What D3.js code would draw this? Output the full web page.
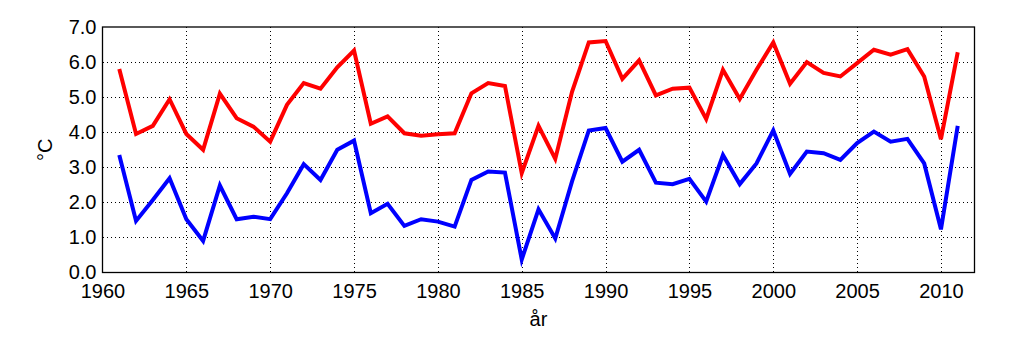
<!DOCTYPE html>
<html>
<head>
<meta charset="utf-8">
<script src="https://cdn.jsdelivr.net/npm/d3@7"></script>
<style>
  html, body { margin: 0; padding: 0; background: #fff; }
  svg { display: block; font-family: "Liberation Sans", Arial, sans-serif; }
</style>
</head>
<body>
<svg id="chart" width="1025" height="341"></svg>
<script>
const years = d3.range(1961, 2012);
const redSeries = [
  5.8, 3.95, 4.18, 4.94, 3.95, 3.5, 5.1, 4.4, 4.16, 3.73,
  4.78, 5.4, 5.24, 5.85, 6.33, 4.24, 4.45, 3.97, 3.9, 3.94,
  3.97, 5.11, 5.4, 5.32, 2.83, 4.18, 3.24, 5.15, 6.56, 6.6,
  5.52, 6.05, 5.05, 5.24, 5.27, 4.38, 5.78, 4.95, 5.78, 6.56,
  5.38, 6.0, 5.69, 5.59, 5.97, 6.35, 6.21, 6.37, 5.59, 3.8,
  6.28
];
const blueSeries = [
  3.35, 1.47, 2.07, 2.69, 1.52, 0.9, 2.48, 1.52, 1.59, 1.52,
  2.26, 3.09, 2.64, 3.5, 3.76, 1.69, 1.96, 1.33, 1.52, 1.45,
  1.31, 2.64, 2.88, 2.85, 0.37, 1.8, 0.97, 2.6, 4.05, 4.12,
  3.16, 3.5, 2.56, 2.52, 2.67, 2.02, 3.35, 2.52, 3.11, 4.05,
  2.81, 3.45, 3.4, 3.21, 3.69, 4.02, 3.73, 3.81, 3.11, 1.23,
  4.18
];
const xTicks = [1960, 1965, 1970, 1975, 1980, 1985, 1990, 1995, 2000, 2005, 2010];
const yTicks = [0, 1, 2, 3, 4, 5, 6, 7];
const xLabel = "år";
const yLabel = "°C";

const svg = d3.select("#chart");
const L = 102.5, R = 974.5, T = 27, B = 272.5;

const x = d3.scaleLinear().domain([1960, 2012]).range([L, R]);
const y = d3.scaleLinear().domain([0, 7]).range([B, T]);

// grid
const grid = svg.append("g").attr("stroke", "#000").attr("stroke-width", 1)
  .attr("stroke-dasharray", "1,3").attr("shape-rendering", "crispEdges");
grid.selectAll("line.v").data(xTicks.filter(d => d > 1960)).join("line")
  .attr("x1", d => Math.round(x(d)) + 0.5).attr("x2", d => Math.round(x(d)) + 0.5)
  .attr("y1", T).attr("y2", B);
grid.selectAll("line.h").data(yTicks.filter(d => d > 0 && d < 7)).join("line")
  .attr("x1", L).attr("x2", R)
  .attr("y1", d => Math.round(y(d)) + 0.5).attr("y2", d => Math.round(y(d)) + 0.5);

// axes (labels only, no tick marks)
const xAxis = d3.axisBottom(x).tickValues(xTicks).tickFormat(d3.format("d")).tickSize(0).tickPadding(11);
const gx = svg.append("g").attr("transform", `translate(0,${B})`).call(xAxis);
gx.select(".domain").remove();
gx.selectAll("text").attr("font-size", 20).attr("font-family", "Liberation Sans, Arial, sans-serif").attr("fill", "#000");

const yAxis = d3.axisLeft(y).tickValues(yTicks).tickFormat(d3.format(".1f")).tickSize(0).tickPadding(6);
const gy = svg.append("g").attr("transform", `translate(${L},0)`).call(yAxis);
gy.select(".domain").remove();
gy.selectAll("text").attr("font-size", 20).attr("font-family", "Liberation Sans, Arial, sans-serif").attr("fill", "#000");

// lines
const line = d3.line().x((d, i) => x(years[i])).y(d => y(d));
svg.append("path").datum(redSeries).attr("d", line)
  .attr("fill", "none").attr("stroke", "#ff0000").attr("stroke-width", 4).attr("stroke-linejoin", "miter");
svg.append("path").datum(blueSeries).attr("d", line)
  .attr("fill", "none").attr("stroke", "#0000ff").attr("stroke-width", 4).attr("stroke-linejoin", "miter");

// frame
svg.append("rect").attr("x", L).attr("y", T).attr("width", R - L).attr("height", B - T)
  .attr("fill", "none").attr("stroke", "#000").attr("stroke-width", 1.3);

// axis labels
svg.append("text").attr("x", (L + R) / 2).attr("y", 326).attr("text-anchor", "middle")
  .attr("font-size", 20).attr("fill", "#000").text(xLabel);
svg.append("text").attr("transform", `translate(52,${(T + B) / 2}) rotate(-90)`)
  .attr("text-anchor", "middle").attr("font-size", 20).attr("fill", "#000").text(yLabel);
</script>
</body>
</html>
